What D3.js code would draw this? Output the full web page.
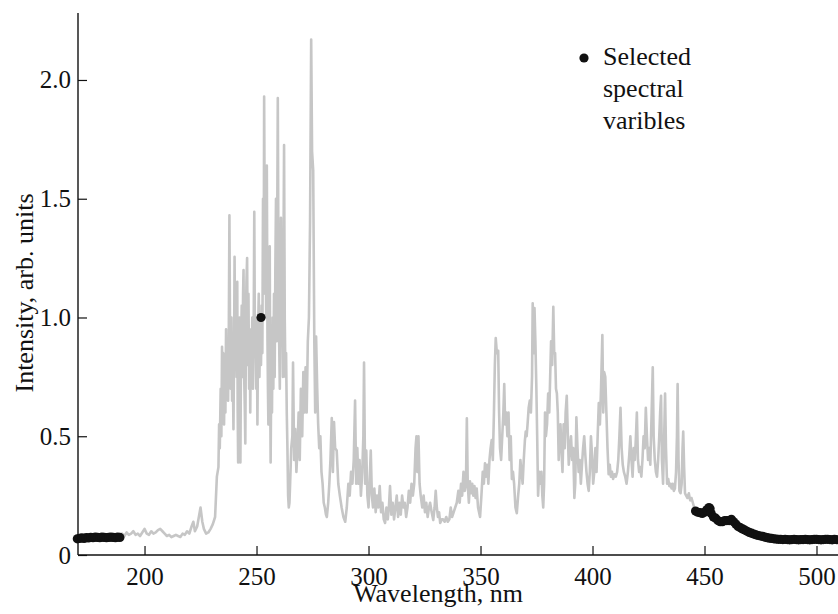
<!DOCTYPE html>
<html>
<head>
<meta charset="utf-8">
<script src="https://cdn.jsdelivr.net/npm/d3@7"></script>
<style>
  html, body { margin: 0; padding: 0; background: #fff; }
</style>
</head>
<body>
<div id="chart"></div>
<script>
// Emission spectrum with selected spectral variables (black dots)

const FONT = "'Liberation Serif', 'Times New Roman', Times, 'DejaVu Serif', serif";

const X_TICKS = [200, 250, 300, 350, 400, 450, 500];
const Y_TICKS = [0, 0.5, 1.0, 1.5, 2.0];
const Y_TICK_LABELS = ["0", "0.5", "1.0", "1.5", "2.0"];

// spectrum: [wavelength nm, intensity]
const spectrumPoints = [
  [170, 0.07], [172, 0.072], [174, 0.07], [176, 0.074], [178, 0.071], [180, 0.073], [182, 0.075], [184, 0.072],
  [186, 0.074], [188, 0.076], [189, 0.085], [190, 0.09], [191, 0.08], [192, 0.095], [193, 0.085], [194, 0.09],
  [195, 0.1], [196, 0.085], [197, 0.09], [198, 0.08], [199, 0.095], [200, 0.11], [201, 0.09], [202, 0.085],
  [203, 0.1], [204, 0.09], [205, 0.095], [206, 0.105], [207, 0.11], [208, 0.1], [209, 0.09], [210, 0.08],
  [211, 0.085], [212, 0.075], [213, 0.08], [214, 0.085], [215, 0.08], [216, 0.076], [217, 0.09], [218, 0.085],
  [219, 0.1], [220, 0.09], [221, 0.12], [221.8, 0.14], [222.5, 0.1], [223.5, 0.12], [225, 0.2], [225.8, 0.14],
  [226.5, 0.11], [227.5, 0.09], [228.5, 0.095], [229.5, 0.11], [230.5, 0.13], [231.5, 0.16], [232.3, 0.33],
  [233, 0.37], [233.3, 0.55], [233.6, 0.45], [234, 0.7], [234.3, 0.5], [234.6, 0.877], [234.9, 0.6], [235.2, 0.85],
  [235.5, 0.55], [235.8, 0.8], [236.1, 0.6], [236.4, 0.95], [236.7, 0.7], [237, 0.85], [237.3, 0.65], [237.6, 0.9],
  [237.9, 1.43], [238.2, 0.9], [238.5, 0.7], [238.8, 1.0], [239.1, 0.65], [239.4, 0.8], [239.7, 0.53], [240, 0.9],
  [240.2, 1.256], [240.5, 0.8], [240.8, 1.0], [241.1, 0.75], [241.4, 1.15], [241.6, 0.6], [241.8, 0.39], [242.1, 0.8],
  [242.4, 1.0], [242.6, 0.6], [242.8, 0.39], [243.1, 0.9], [243.4, 1.05], [243.7, 0.75], [244, 1.1], [244.2, 1.2],
  [244.5, 0.75], [244.8, 0.6], [245, 0.47], [245.3, 1.0], [245.5, 1.15], [245.8, 1.25], [246.1, 0.8], [246.4, 1.1],
  [246.7, 0.7], [247, 0.9], [247.2, 0.6], [247.5, 0.95], [247.8, 0.75], [248.1, 1.0], [248.4, 0.7], [248.7, 0.9],
  [249, 1.445], [249.3, 0.85], [249.6, 1.0], [249.9, 0.7], [250.2, 0.9], [250.4, 0.55], [250.7, 0.95], [251, 1.1],
  [251.3, 0.75], [251.6, 0.95], [252, 0.8], [252.3, 1.05], [252.6, 0.85], [252.9, 1.5], [253.2, 1.1], [253.4, 1.93],
  [253.7, 1.3], [254, 1.6], [254.3, 1.0], [254.6, 1.64], [254.9, 0.9], [255.1, 0.7], [255.3, 0.55], [255.6, 1.0],
  [255.9, 1.3], [256.1, 0.7], [256.3, 0.39], [256.6, 0.8], [256.9, 0.6], [257.2, 1.0], [257.5, 0.7], [257.8, 1.1],
  [258.1, 0.75], [258.4, 1.2], [258.7, 1.5], [259, 0.9], [259.2, 1.3], [259.5, 1.924], [259.8, 1.2], [260.1, 0.9],
  [260.4, 0.7], [260.7, 1.1], [260.9, 1.42], [261.2, 0.9], [261.5, 1.15], [261.8, 0.75], [262, 1.2], [262.3, 1.726],
  [262.6, 1.0], [262.9, 0.75], [263.2, 0.85], [263.5, 0.6], [263.8, 0.45], [264.1, 0.25], [264.4, 0.2], [264.7, 0.22],
  [265, 0.3], [265.5, 0.45], [266, 0.5], [266.3, 0.81], [266.8, 0.4], [267.3, 0.53], [267.8, 0.35], [268.3, 0.45],
  [268.8, 0.6], [269.3, 0.4], [269.8, 0.7], [270.4, 0.5], [270.9, 0.77], [271.4, 0.6], [271.9, 0.79], [272.4, 0.6],
  [272.9, 0.9], [273.4, 1.0], [273.9, 1.4], [274.4, 2.17], [274.8, 1.7], [275.3, 1.62], [275.8, 0.9], [276.2, 0.6],
  [276.6, 0.92], [277.1, 0.7], [277.5, 0.555], [278, 0.45], [278.5, 0.5], [279, 0.35], [279.5, 0.3], [280, 0.22],
  [280.5, 0.2], [281, 0.17], [281.4, 0.16], [282, 0.22], [282.5, 0.3], [283, 0.4], [283.6, 0.577], [284.1, 0.35],
  [284.6, 0.56], [285.1, 0.45], [285.8, 0.44], [286.5, 0.3], [287.2, 0.25], [288, 0.2], [288.8, 0.16], [289.6, 0.14],
  [290.3, 0.2], [291, 0.3], [291.6, 0.25], [292.2, 0.35], [292.8, 0.3], [293.4, 0.4], [294, 0.65], [294.5, 0.3],
  [295, 0.45], [295.5, 0.3], [296, 0.4], [296.6, 0.25], [297.2, 0.35], [297.7, 0.5], [298, 0.81], [298.5, 0.3],
  [299, 0.44], [299.5, 0.25], [300, 0.2], [300.5, 0.3], [301, 0.44], [301.5, 0.25], [302, 0.2], [302.6, 0.28],
  [303.2, 0.18], [303.8, 0.25], [304.4, 0.2], [305, 0.29], [305.6, 0.18], [306.2, 0.22], [306.8, 0.15], [307.4, 0.135],
  [308, 0.2], [308.6, 0.15], [309.1, 0.2], [309.6, 0.29], [310.2, 0.17], [310.8, 0.22], [311.4, 0.15], [312, 0.2],
  [312.6, 0.25], [313.2, 0.16], [313.8, 0.22], [314.4, 0.17], [315, 0.25], [315.6, 0.2], [316.2, 0.22], [316.8, 0.16],
  [317.4, 0.2], [318, 0.27], [318.6, 0.22], [319.2, 0.3], [319.8, 0.25], [320.4, 0.3], [321, 0.45], [321.4, 0.5],
  [321.8, 0.35], [322.3, 0.5], [322.8, 0.3], [323.3, 0.25], [324, 0.2], [324.6, 0.25], [325.2, 0.18], [325.8, 0.22],
  [326.4, 0.16], [327, 0.2], [327.5, 0.22], [328.2, 0.18], [328.9, 0.147], [329.5, 0.2], [330, 0.27], [330.5, 0.2],
  [331, 0.16], [331.5, 0.18], [332, 0.135], [332.7, 0.15], [333.3, 0.15], [334, 0.14], [334.7, 0.16], [335.4, 0.14],
  [336.1, 0.15], [336.7, 0.2], [337.3, 0.16], [338, 0.18], [338.7, 0.2], [339.4, 0.22], [340.1, 0.27], [340.7, 0.22],
  [341.3, 0.3], [341.8, 0.25], [342.4, 0.35], [343, 0.27], [343.5, 0.3], [343.9, 0.576], [344.3, 0.3], [344.8, 0.22],
  [345.3, 0.31], [345.8, 0.26], [346.3, 0.3], [346.8, 0.25], [347.3, 0.29], [347.8, 0.24], [348.3, 0.28], [348.9, 0.2],
  [349.8, 0.16], [350.4, 0.25], [351, 0.35], [351.5, 0.3], [352, 0.386], [352.5, 0.33], [353, 0.38], [353.5, 0.3],
  [354, 0.4], [354.5, 0.45], [355, 0.484], [355.5, 0.4], [356, 0.6], [356.4, 0.8], [356.8, 0.913], [357.3, 0.85],
  [357.9, 0.86], [358.3, 0.6], [358.7, 0.45], [359.2, 0.4], [359.7, 0.5], [360.2, 0.6], [360.6, 0.72], [361, 0.55],
  [361.5, 0.6], [362, 0.5], [362.5, 0.6], [363, 0.4], [363.5, 0.5], [364, 0.32], [364.5, 0.35], [365, 0.3],
  [365.6, 0.2], [366.2, 0.176], [366.8, 0.25], [367.3, 0.3], [367.8, 0.4], [368.3, 0.35], [368.8, 0.3], [369.3, 0.4],
  [369.8, 0.48], [370.2, 0.52], [370.6, 0.5], [371, 0.55], [371.5, 0.62], [372, 0.65], [372.5, 0.6], [373, 0.75],
  [373.3, 1.06], [373.7, 0.85], [374.1, 1.04], [374.5, 0.9], [374.9, 0.72], [375.3, 0.5], [375.7, 0.25], [376.2, 0.35],
  [376.7, 0.3], [377.2, 0.35], [377.6, 0.25], [378, 0.2], [378.4, 0.3], [378.8, 0.6], [379.2, 0.5], [379.7, 0.55],
  [380.2, 0.68], [380.7, 0.6], [381.1, 0.75], [381.5, 0.9], [382, 0.8], [382.5, 1.045], [382.9, 0.85], [383.3, 0.85],
  [383.7, 0.7], [384.1, 0.68], [384.5, 0.6], [384.9, 0.4], [385.3, 0.5], [385.7, 0.55], [386.1, 0.45], [386.6, 0.35],
  [387.1, 0.55], [387.6, 0.45], [388, 0.6], [388.5, 0.67], [389, 0.5], [389.4, 0.38], [389.9, 0.45], [390.4, 0.5],
  [390.9, 0.4], [391.4, 0.45], [391.9, 0.24], [392.3, 0.3], [392.8, 0.58], [393.3, 0.45], [393.8, 0.35], [394.3, 0.4],
  [394.8, 0.3], [395.3, 0.38], [395.8, 0.45], [396.3, 0.5], [396.8, 0.42], [397.3, 0.35], [397.8, 0.3], [398.3, 0.27],
  [398.8, 0.35], [399.3, 0.5], [399.8, 0.42], [400.3, 0.3], [400.8, 0.35], [401.3, 0.45], [401.8, 0.35], [402.3, 0.5],
  [402.8, 0.64], [403.3, 0.55], [403.8, 0.7], [404.4, 0.926], [404.8, 0.6], [405.2, 0.77], [405.7, 0.75], [406.2, 0.6],
  [406.7, 0.45], [407.2, 0.34], [407.7, 0.38], [408.2, 0.33], [408.7, 0.35], [409.2, 0.32], [409.8, 0.34], [410.4, 0.33],
  [411, 0.35], [411.5, 0.4], [412, 0.5], [412.5, 0.62], [413, 0.45], [413.5, 0.38], [414, 0.35], [414.6, 0.33],
  [415.2, 0.3], [415.8, 0.35], [416.4, 0.42], [416.9, 0.5], [417.4, 0.4], [417.9, 0.33], [418.4, 0.45], [418.9, 0.4],
  [419.4, 0.5], [419.8, 0.6], [420.3, 0.4], [420.8, 0.35], [421.3, 0.37], [421.8, 0.33], [422.3, 0.4], [422.8, 0.5],
  [423.3, 0.45], [423.8, 0.62], [424.3, 0.5], [424.8, 0.4], [425.3, 0.45], [425.8, 0.38], [426.4, 0.6], [426.9, 0.79],
  [427.3, 0.5], [427.8, 0.4], [428.3, 0.35], [428.8, 0.33], [429.3, 0.4], [429.8, 0.5], [430.2, 0.6], [430.6, 0.67],
  [431, 0.4], [431.5, 0.3], [432, 0.5], [432.4, 0.68], [432.8, 0.45], [433.3, 0.3], [433.8, 0.32], [434.3, 0.29],
  [434.8, 0.3], [435.3, 0.28], [435.8, 0.3], [436.3, 0.27], [436.8, 0.28], [437.3, 0.35], [437.7, 0.5], [438, 0.72],
  [438.4, 0.4], [438.8, 0.27], [439.3, 0.26], [439.8, 0.3], [440.2, 0.45], [440.5, 0.52], [440.9, 0.37], [441.3, 0.26],
  [441.8, 0.25], [442.4, 0.24], [443, 0.26], [443.6, 0.23], [444.2, 0.24], [444.8, 0.22], [445.4, 0.2], [446, 0.19],
  [450, 0.18], [455, 0.155], [460, 0.145], [465, 0.12], [470, 0.095], [480, 0.068], [490, 0.065], [500, 0.066], [509, 0.065]
];

// selected spectral variables: [wavelength nm, intensity]
const selectedLeft = [
  [170, 0.068], [171, 0.07], [172, 0.072], [173, 0.07], [174, 0.073], [175, 0.072], [176, 0.074], [177, 0.073],
  [178, 0.075], [179, 0.074], [180, 0.073], [181, 0.075], [182, 0.074], [183, 0.073], [184, 0.074], [185, 0.075],
  [186, 0.074], [187, 0.073], [188, 0.075], [189, 0.074]
];
const selectedPeak = [[252, 1.0]];
const selectedRight = [
  [446, 0.185], [447, 0.18], [448, 0.178], [449, 0.175], [450, 0.18], [451, 0.19], [452, 0.2], [452.5, 0.195],
  [453, 0.175], [454, 0.16], [455, 0.155], [456, 0.145], [457, 0.14], [458, 0.14], [459, 0.145], [460, 0.145],
  [461, 0.145], [462, 0.15], [463, 0.14], [464, 0.13], [465, 0.12], [466, 0.115], [467, 0.11], [468, 0.105],
  [469, 0.1], [470, 0.095], [471, 0.092], [472, 0.088], [473, 0.085], [474, 0.082], [475, 0.08], [476, 0.078],
  [477, 0.075], [478, 0.073], [479, 0.071], [480, 0.07], [481, 0.068], [482, 0.067], [483, 0.066], [484, 0.066],
  [485, 0.065], [486, 0.066], [487, 0.065], [488, 0.064], [489, 0.065], [490, 0.066], [491, 0.065], [492, 0.064],
  [493, 0.065], [494, 0.065], [495, 0.066], [496, 0.065], [497, 0.064], [498, 0.065], [499, 0.066], [500, 0.066],
  [501, 0.065], [502, 0.064], [503, 0.065], [504, 0.066], [505, 0.066], [506, 0.065], [507, 0.064], [508, 0.066],
  [509, 0.065]
];

const LEGEND_LINES = ["Selected", "spectral", "varibles"];

const width = 838;
const height = 614;
const margin = { top: 13, right: 0, bottom: 59, left: 78 };
const innerWidth = width - margin.left - margin.right;
const innerHeight = height - margin.top - margin.bottom;

const svg = d3.select("#chart")
  .append("svg")
  .attr("width", width)
  .attr("height", height)
  .style("font-family", FONT);

const g = svg.append("g")
  .attr("transform", `translate(${margin.left},${margin.top})`);

const x = d3.scaleLinear()
  .domain([170.3, 509.6])
  .range([0, innerWidth]);

const y = d3.scaleLinear()
  .domain([0, 2.282])
  .range([innerHeight, 0]);

// spectrum line
const line = d3.line()
  .x(d => x(d[0]))
  .y(d => y(d[1]));

g.append("path")
  .datum(spectrumPoints)
  .attr("fill", "none")
  .attr("stroke", "#c6c6c6")
  .attr("stroke-width", 2.6)
  .attr("stroke-linejoin", "round")
  .attr("d", line);

// selected points
const selected = selectedLeft.concat(selectedPeak, selectedRight);
g.selectAll(".sel")
  .data(selected)
  .enter()
  .append("circle")
  .attr("class", "sel")
  .attr("cx", d => x(d[0]))
  .attr("cy", d => y(d[1]))
  .attr("r", 4.6)
  .attr("fill", "#111");

// axes, ticks pointing inward
const xAxis = d3.axisBottom(x)
  .tickValues(X_TICKS)
  .tickSize(-9)
  .tickPadding(12)
  .tickFormat(d3.format("d"));

const yAxis = d3.axisLeft(y)
  .tickValues(Y_TICKS)
  .tickSize(-9)
  .tickPadding(7)
  .tickFormat((d, i) => Y_TICK_LABELS[i]);

const gx = g.append("g")
  .attr("transform", `translate(0,${innerHeight})`)
  .call(xAxis);

const gy = g.append("g").call(yAxis);

[gx, gy].forEach(a => {
  a.attr("font-family", null).attr("font-size", null);
  a.select(".domain").attr("stroke", "#111").attr("stroke-width", 1.4);
  a.selectAll(".tick line").attr("stroke", "#111").attr("stroke-width", 1.2);
  a.selectAll(".tick text")
    .style("font-family", FONT)
    .style("font-size", "25px")
    .attr("fill", "#111");
});
// domain without outer ticks
gx.select(".domain").attr("d", `M0,0H${innerWidth}`);
gy.select(".domain").attr("d", `M0,${innerHeight}V0`);

// axis titles
svg.append("text")
  .attr("x", 438)
  .attr("y", 602)
  .attr("text-anchor", "middle")
  .style("font-family", FONT)
  .style("font-size", "26px")
  .attr("fill", "#111")
  .text("Wavelength, nm");

svg.append("text")
  .attr("transform", "translate(33,293) rotate(-90)")
  .attr("text-anchor", "middle")
  .style("font-family", FONT)
  .style("font-size", "26px")
  .attr("fill", "#111")
  .text("Intensity, arb. units");

// legend
const legend = svg.append("g")
  .attr("transform", "translate(584,58)");

legend.append("circle")
  .attr("r", 4.6)
  .attr("fill", "#111");

legend.selectAll("text")
  .data(LEGEND_LINES)
  .enter()
  .append("text")
  .attr("x", 19)
  .attr("y", (d, i) => 7 + i * 32)
  .style("font-family", FONT)
  .style("font-size", "26px")
  .attr("fill", "#111")
  .text(d => d);
</script>
</body>
</html>
